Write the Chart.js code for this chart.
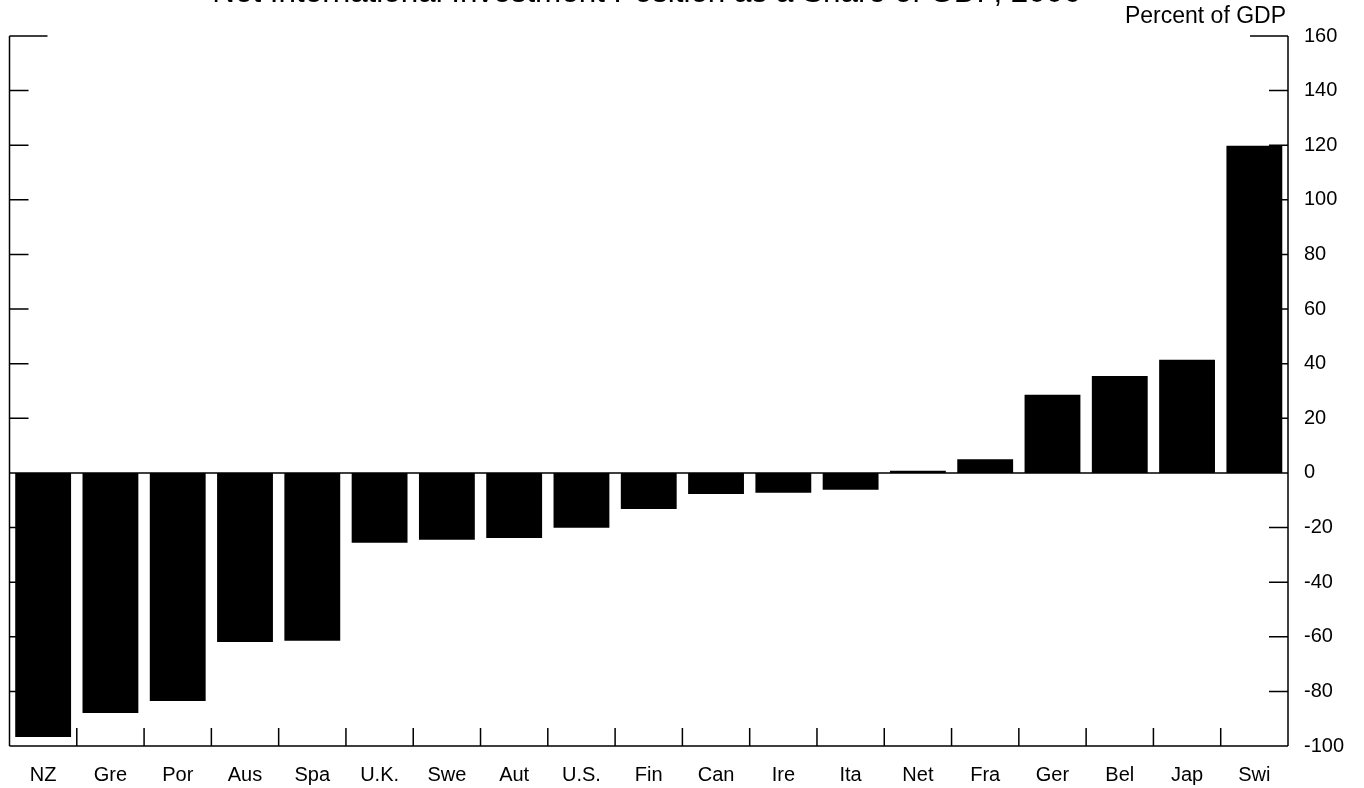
<!DOCTYPE html>
<html>
<head>
<meta charset="utf-8">
<title>Net International Investment Position as a Share of GDP</title>
<script src="https://cdn.jsdelivr.net/npm/chart.js@4"></script>
<style>
    html, body { margin: 0; padding: 0; background: #fff; }
    #wrap { position: relative; width: 1364px; height: 788px; }
</style>
</head>
<body>
<div id="wrap"><canvas id="niipChart" width="1364" height="788"></canvas></div>
<script>
const countries = ['NZ', 'Gre', 'Por', 'Aus', 'Spa', 'U.K.', 'Swe', 'Aut', 'U.S.', 'Fin',
    'Can', 'Ire', 'Ita', 'Net', 'Fra', 'Ger', 'Bel', 'Jap', 'Swi'];
const niipShare = [-96.7, -87.9, -83.5, -61.9, -61.5, -25.6, -24.5, -23.8, -20.1, -13.2,
    -7.7, -7.3, -6.2, 0.8, 5.0, 28.6, 35.5, 41.4, 119.8];
const yTicks = [160, 140, 120, 100, 80, 60, 40, 20, 0, -20, -40, -60, -80, -100];

const chartTitle = 'Net International Investment Position as a Share of GDP, 2006';
const unitLabel = 'Percent of GDP';
const fontFamily = "'Liberation Sans', Arial, Helvetica, sans-serif";

// axes frame, inward ticks and texts drawn by hand, like the original
const framePlugin = {
    id: 'frame',
    beforeDatasetsDraw(chart) {
        const ctx = chart.ctx;
        const area = chart.chartArea;
        const y = chart.scales.y;
        const x = chart.scales.x;
        ctx.save();
        ctx.strokeStyle = '#000';
        ctx.lineWidth = 1.5;
        ctx.beginPath();
        // side axes
        ctx.moveTo(area.left, area.top);
        ctx.lineTo(area.left, area.bottom);
        ctx.moveTo(area.right, area.top);
        ctx.lineTo(area.right, area.bottom);
        ctx.moveTo(area.left, area.bottom);
        ctx.lineTo(area.right, area.bottom);
        // zero line
        const y0 = y.getPixelForValue(0);
        ctx.moveTo(area.left, y0);
        ctx.lineTo(area.right, y0);
        // y ticks on both sides
        yTicks.forEach(function (v) {
            const py = y.getPixelForValue(v);
            const len = v === 160 ? 38 : 19;
            ctx.moveTo(area.left, py);
            ctx.lineTo(area.left + len, py);
            ctx.moveTo(area.right, py);
            ctx.lineTo(area.right - len, py);
        });
        // category separators along the bottom
        for (let i = 1; i < countries.length; i++) {
            const px = (x.getPixelForValue(i - 1) + x.getPixelForValue(i)) / 2;
            ctx.moveTo(px, area.bottom);
            ctx.lineTo(px, area.bottom - 18);
        }
        ctx.stroke();

        ctx.fillStyle = '#000';
        ctx.textBaseline = 'alphabetic';
        ctx.font = '31.4px ' + fontFamily;
        ctx.textAlign = 'center';
        ctx.fillText(chartTitle, 646.5, 1.5);
        ctx.font = '23px ' + fontFamily;
        ctx.textAlign = 'right';
        ctx.fillText(unitLabel, area.right - 2, 23);
        ctx.restore();
    }
};

new Chart(document.getElementById('niipChart'), {
    type: 'bar',
    data: {
        labels: countries,
        datasets: [{
            label: unitLabel,
            data: niipShare,
            backgroundColor: '#000',
            borderWidth: 0,
            barPercentage: 0.83,
            categoryPercentage: 1.0
        }]
    },
    options: {
        responsive: false,
        animation: false,
        layout: { padding: { left: 9.5, top: 36, right: 0, bottom: 0 } },
        plugins: {
            legend: { display: false },
            tooltip: { enabled: false },
            title: { display: false }
        },
        scales: {
            x: {
                grid: { display: false, drawTicks: false },
                border: { display: false },
                ticks: {
                    color: '#000',
                    font: { family: fontFamily, size: 20 },
                    padding: 17,
                    maxRotation: 0,
                    autoSkip: false
                },
                afterFit: function (scale) { scale.height = 42; }
            },
            y: {
                position: 'right',
                min: -100,
                max: 160,
                grid: { display: false, drawTicks: false },
                border: { display: false },
                ticks: {
                    stepSize: 20,
                    color: '#000',
                    font: { family: fontFamily, size: 20 },
                    padding: 16
                },
                afterFit: function (scale) { scale.width = 76; }
            }
        }
    },
    plugins: [framePlugin]
});
</script>
</body>
</html>
